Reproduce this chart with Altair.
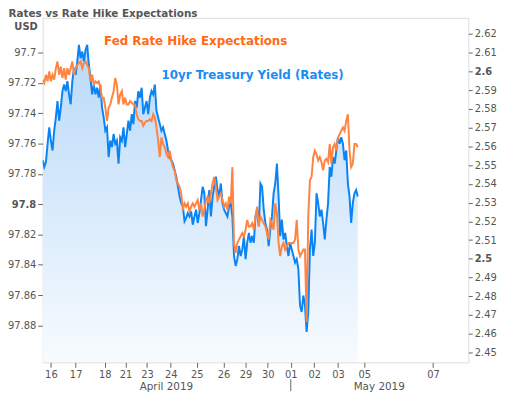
import altair as alt
import pandas as pd

# 10yr Treasury yield (right axis), sampled evenly across the trading sessions
yield_10yr = [
    2.5526, 2.5490, 2.5517, 2.5614, 2.5702, 2.5631, 2.5578, 2.5684, 2.5754, 2.5842,
    2.5737, 2.5807, 2.5895, 2.5930, 2.5895, 2.5948, 2.5878, 2.5825, 2.5948, 2.6018,
    2.5983, 2.6054, 2.6142, 2.6071, 2.6106, 2.6054, 2.6115, 2.6142, 2.6036, 2.5966,
    2.5878, 2.5930, 2.5878, 2.5913, 2.5860, 2.5930, 2.5807, 2.5754, 2.5684, 2.5702,
    2.5543, 2.5631, 2.5596, 2.5666, 2.5614, 2.5631, 2.5508, 2.5649, 2.5631, 2.5702,
    2.5596, 2.5666, 2.5737, 2.5684, 2.5772, 2.5719, 2.5842, 2.5807, 2.5895, 2.5860,
    2.5913, 2.5772, 2.5807, 2.5842, 2.5772, 2.5860, 2.5895, 2.5878, 2.5930, 2.5790,
    2.5754, 2.5719, 2.5684, 2.5702, 2.5666, 2.5631, 2.5578, 2.5543, 2.5526, 2.5508,
    2.5473, 2.5438, 2.5385, 2.5332, 2.5297, 2.5279, 2.5200, 2.5218, 2.5244, 2.5226,
    2.5253, 2.5182, 2.5226, 2.5262, 2.5191, 2.5244, 2.5314, 2.5385, 2.5350, 2.5174,
    2.5262, 2.5367, 2.5226, 2.5332, 2.5385, 2.5438, 2.5367, 2.5332, 2.5402, 2.5297,
    2.5262, 2.5244, 2.5226, 2.5279, 2.5297, 2.5226, 2.5015, 2.4962, 2.4998, 2.5068,
    2.5015, 2.5050, 2.5121, 2.4998, 2.5086, 2.5138, 2.5086, 2.5121, 2.5086, 2.5226,
    2.5262, 2.5174, 2.5402, 2.5385, 2.5262, 2.5191, 2.5156, 2.5068, 2.5156, 2.5226,
    2.5350, 2.5402, 2.5508, 2.5332, 2.5121, 2.5209, 2.5103, 2.5138, 2.5068, 2.5015,
    2.5086, 2.5050, 2.5015, 2.4980, 2.4998, 2.4945, 2.4751, 2.4716, 2.4804, 2.4751,
    2.4610, 2.4716, 2.5050, 2.5156, 2.5015, 2.5086, 2.5350, 2.5297, 2.5226, 2.5262,
    2.5191, 2.5103, 2.5209, 2.5297, 2.5490, 2.5438, 2.5543, 2.5508, 2.5578, 2.5649,
    2.5614, 2.5649, 2.5614, 2.5526, 2.5578, 2.5402, 2.5332, 2.5191, 2.5297, 2.5350,
    2.5367, 2.5332,
]

# Fed funds futures price (left axis, inverted), same sampling
fed_futures = [
    97.7179, 97.7200, 97.7146, 97.7190, 97.7124, 97.7190, 97.7146, 97.7179, 97.7103, 97.7059,
    97.7146, 97.7092, 97.7168, 97.7103, 97.7179, 97.7103, 97.7146, 97.7103, 97.7059, 97.7146,
    97.7103, 97.7081, 97.7070, 97.7059, 97.7103, 97.7070, 97.7059, 97.7081, 97.7103, 97.7190,
    97.7146, 97.7211, 97.7190, 97.7200, 97.7190, 97.7233, 97.7298, 97.7298, 97.7364, 97.7451,
    97.7364, 97.7342, 97.7298, 97.7255, 97.7168, 97.7211, 97.7342, 97.7277, 97.7255, 97.7342,
    97.7298, 97.7342, 97.7342, 97.7320, 97.7331, 97.7342, 97.7342, 97.7407, 97.7440, 97.7451,
    97.7451, 97.7483, 97.7462, 97.7451, 97.7451, 97.7440, 97.7451, 97.7407, 97.7429, 97.7494,
    97.7581, 97.7690, 97.7560, 97.7603, 97.7625, 97.7669, 97.7690, 97.7647, 97.7712, 97.7756,
    97.7777, 97.7843, 97.7864, 97.7886, 97.7930, 97.8039, 97.7995, 97.8017, 97.7995, 97.8050,
    97.8017, 97.7995, 97.8017, 97.7995, 97.7973, 97.8039, 97.7995, 97.8082, 97.8039, 97.7973,
    97.7951, 97.7995, 97.7930, 97.7864, 97.7821, 97.7886, 97.7973, 97.7951, 97.7930, 97.7973,
    97.8017, 97.7995, 97.8039, 97.7951, 97.7995, 97.7756, 97.8256, 97.8322, 97.8256, 97.8234,
    97.8213, 97.8191, 97.8213, 97.8169, 97.8104, 97.8147, 97.8147, 97.8126, 97.8169, 97.8082,
    97.8017, 97.8147, 97.8082, 97.8104, 97.8126, 97.8147, 97.8191, 97.8234, 97.8104, 97.8126,
    97.8169, 97.7995, 97.8060, 97.8256, 97.8343, 97.8278, 97.8256, 97.8300, 97.8278, 97.8256,
    97.8256, 97.8256, 97.8256, 97.8234, 97.8104, 97.8300, 97.8343, 97.8322, 97.8300, 97.8300,
    97.8779, 97.8082, 97.7843, 97.7821, 97.7690, 97.7647, 97.7669, 97.7712, 97.7690, 97.7723,
    97.7777, 97.7712, 97.7701, 97.7723, 97.7603, 97.7734, 97.7625, 97.7603, 97.7647, 97.7560,
    97.7538, 97.7516, 97.7494, 97.7516, 97.7451, 97.7407, 97.7647, 97.7756, 97.7734, 97.7603,
    97.7603, 97.7625,
]

day_tick_pos = [5.0, 20.0, 37.6, 50.2, 63.2, 77.6, 93.4, 109.6, 123.0, 136.4,
                150.4, 164.6, 179.0, 195.0, 236.6]
day_tick_labels = ["16", "17", "18", "21", "23", "24", "25", "26", "29", "30",
                   "01", "02", "03", "05", "07"]

left_ticks = [97.7, 97.72, 97.74, 97.76, 97.78, 97.8, 97.82, 97.84, 97.86, 97.88]
right_ticks = [2.45, 2.46, 2.47, 2.48, 2.49, 2.5, 2.51, 2.52, 2.53, 2.54, 2.55,
               2.56, 2.57, 2.58, 2.59, 2.6, 2.61, 2.62]

W, H = 430, 348
FONT = "DejaVu Sans"
GRAY = "#555555"
BLUE = "#0a84f5"
ORANGE = "#ff8442"
RIGHT_MIN, RIGHT_MAX = 2.4447, 2.6286
LEFT_MIN, LEFT_MAX = 97.6771, 97.9044

df_y = pd.DataFrame({"i": list(range(len(yield_10yr))), "v": yield_10yr})
df_f = pd.DataFrame({"i": list(range(len(fed_futures))), "v": fed_futures})

label_expr = "{}[indexof({}, datum.value)]".format(
    "[" + ",".join("'%s'" % s for s in day_tick_labels) + "]",
    "[" + ",".join(str(p) for p in day_tick_pos) + "]",
)

x_axis = alt.Axis(values=day_tick_pos, labelExpr=label_expr, title=None,
                  domain=False, grid=False, tickColor="#666", tickSize=5,
                  labelColor=GRAY, labelFont=FONT, labelFontSize=10,
                  labelPadding=2, labelOverlap=False, labelFlush=False,
                  labelBound=False)
x_scale = alt.Scale(domain=[0, 258], nice=False, zero=False)


def x_enc():
    return alt.X("i:Q", scale=x_scale, axis=x_axis)


right_scale = alt.Scale(domain=[RIGHT_MIN, RIGHT_MAX], nice=False, zero=False)
right_axis = alt.Axis(orient="right", values=right_ticks, format=".3~r",
                      title=None, domain=False, grid=False,
                      tickColor="#666", tickSize=4, labelColor=GRAY,
                      labelFont=FONT, labelFontSize=10, labelPadding=2,
                      labelOverlap=False, labelFlush=False,
                      labelFontWeight=alt.condition(
                          "abs(datum.value - 2.6) < 0.0001 || abs(datum.value - 2.5) < 0.0001",
                          alt.value("bold"), alt.value("normal")))

area = alt.Chart(df_y).mark_area(
    color=alt.Gradient(
        gradient="linear",
        stops=[alt.GradientStop(color="#b9d9f8", offset=0),
               alt.GradientStop(color="#f7fbff", offset=1)],
        x1=1, x2=1, y1=0, y2=1,
    ),
    clip=True,
).encode(
    x=x_enc(),
    y=alt.Y("v:Q", scale=right_scale, axis=right_axis),
    y2=alt.datum(RIGHT_MIN),
)

blue_line = alt.Chart(df_y).mark_line(color=BLUE, strokeWidth=2, clip=True).encode(
    x=x_enc(),
    y=alt.Y("v:Q", scale=right_scale, axis=right_axis),
)

blue = alt.layer(area, blue_line)

orange = alt.Chart(df_f).mark_line(color=ORANGE, strokeWidth=2, clip=True).encode(
    x=x_enc(),
    y=alt.Y("v:Q",
            scale=alt.Scale(domain=[LEFT_MIN, LEFT_MAX], reverse=True, nice=False, zero=False),
            axis=alt.Axis(orient="left", values=left_ticks, format=".4~r",
                          title=None, domain=False, grid=False,
                          tickColor="#666", tickSize=5, labelColor=GRAY,
                          labelFont=FONT, labelFontSize=10, labelPadding=2,
                          labelOverlap=False, labelFlush=False,
                          labelFontWeight=alt.condition(
                              "abs(datum.value - 97.8) < 0.0001",
                              alt.value("bold"), alt.value("normal")))),
)


def txt(label, x, y, color, size, weight, align):
    return alt.Chart(pd.DataFrame({"t": [label]})).mark_text(
        color=color, fontSize=size, fontWeight=weight, font=FONT,
        align=align, baseline="middle",
    ).encode(x=alt.value(x), y=alt.value(y), text="t:N")


title = txt("Rates vs Rate Hike Expectations", -34.5, -3.5, GRAY, 10.5, "bold", "left")
usd = txt("USD", -5, 9, GRAY, 10, "bold", "right")
ann_f = txt("Fed Rate Hike Expectations", 62, 23.5, "#ff6a14", 12, "bold", "left")
ann_y = txt("10yr Treasury Yield (Rates)", 120, 57.5, "#1a8cf2", 12, "bold", "left")
apr = txt("April 2019", 125, 373, GRAY, 10.5, "normal", "center")
may = txt("May 2019", 340, 373, GRAY, 10.5, "normal", "center")

sep = alt.Chart(pd.DataFrame({"i": [day_tick_pos[10]]})).mark_rule(
    color="#666", strokeWidth=1
).encode(x=alt.X("i:Q", scale=x_scale, axis=x_axis), y=alt.value(365), y2=alt.value(377))

chart = alt.layer(
    blue, orange, sep, title, usd, ann_f, ann_y, apr, may
).resolve_scale(y="independent").properties(
    width=W, height=H,
    autosize=alt.AutoSizeParams(type="none"),
    padding={"left": 35, "top": 8, "right": 30, "bottom": 32},
).configure_view(stroke="#666", strokeWidth=1).configure(background="white")

chart.save("out.html", embed_options={"renderer": "svg", "actions": False})
